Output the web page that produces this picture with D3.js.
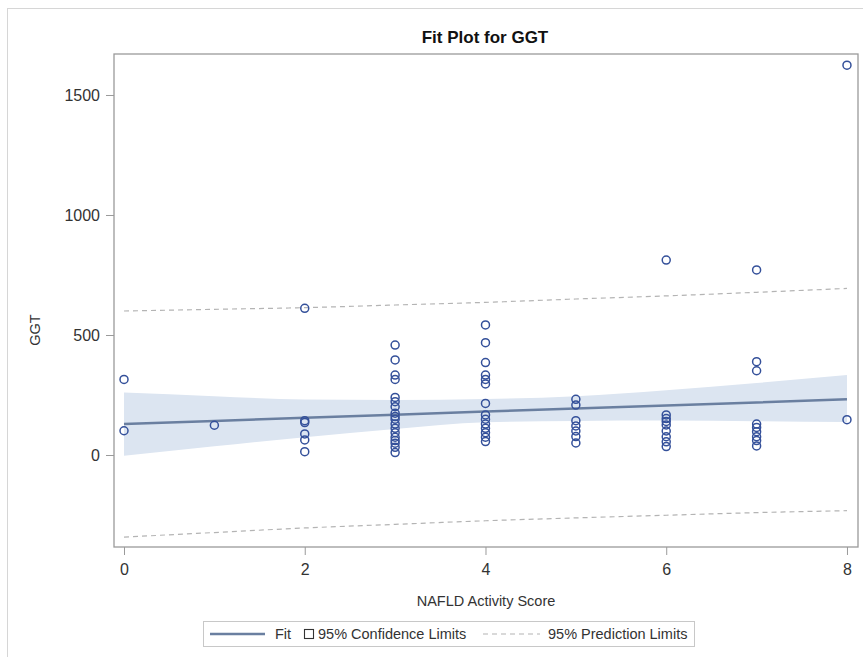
<!DOCTYPE html>
<html>
<head>
<meta charset="utf-8">
<script src="https://cdn.jsdelivr.net/npm/d3@7"></script>
<style>
  html, body { margin: 0; padding: 0; background: #fff; }
  svg { display: block; font-family: Arial, "Liberation Sans", sans-serif; }
</style>
</head>
<body>
<svg id="chart" width="863" height="657"></svg>
<script>
// ---- data ----
const scoreX = [0,0, 1,
  2,2,2,2,2,2,
  3,3,3,3,3,3,3,3,3,3,3,3,3,3,3,3,3,3,
  4,4,4,4,4,4,4,4,4,4,4,4,4,4,
  5,5,5,5,5,5,5,
  6,6,6,6,6,6,6,6,6,
  7,7,7,7,7,7,7,7,7,
  8,8];
const ggtY = [315,101, 124,
  611,143,135,88,63,14,
  458,396,333,315,240,222,201,174,160,149,129,111,93,74,60,49,32,10,
  542,468,385,333,315,296,215,167,149,129,111,93,74,56,
  232,208,143,121,100,77,50,
  812,167,152,140,125,100,76,55,35,
  771,389,351,129,115,97,76,60,38,
  1624,147];

const gridX   = [0, 1, 2, 3, 4, 5, 6, 7, 8];
const fitY    = [129, 142, 155, 168, 181, 194, 206, 219, 232];
const clUpper = [260, 245, 231, 229, 233, 245, 270, 300, 333];
const clLower = [-3, 36, 74, 108, 136, 142, 144, 141, 137];
const plUpper = [600, 607, 614, 625, 636, 650, 663, 678, 694];
const plLower = [-342, -323, -304, -289, -274, -262, -251, -240, -232];

const xTicks = [0, 2, 4, 6, 8];
const yTicks = [0, 500, 1000, 1500];

const titleText = "Fit Plot for GGT";
const xLabel = "NAFLD Activity Score";
const yLabel = "GGT";
const legendItems = ["Fit", "95% Confidence Limits", "95% Prediction Limits"];

// ---- layout ----
const svg = d3.select("#chart");
const L = 114, T = 54, R = 858, B = 547;

const x = d3.scaleLinear().domain([-0.1107, 8.122]).range([L, R]);
const y = d3.scaleLinear().domain([-383.3, 1670.8]).range([B, T]);

const axisColor = "#9a9a9a";
const textColor = "#333";

// outer frame
svg.append("rect").attr("x", 7.5).attr("y", 8.5).attr("width", 900).attr("height", 700)
  .attr("fill", "none").attr("stroke", "#d6d6d6").attr("stroke-width", 1);

// title
svg.append("text").attr("x", 485).attr("y", 43).attr("text-anchor", "middle")
  .attr("font-size", 17).attr("font-weight", "bold").attr("fill", "#111").text(titleText);

// confidence band
const idx = d3.range(gridX.length);
svg.append("path")
  .datum(idx)
  .attr("d", d3.area().x(i => x(gridX[i])).y0(i => y(clLower[i])).y1(i => y(clUpper[i])).curve(d3.curveMonotoneX))
  .attr("fill", "#dce5f1");

// prediction limits
[plUpper, plLower].forEach(arr => {
  svg.append("path").datum(idx)
    .attr("d", d3.line().x(i => x(gridX[i])).y(i => y(arr[i])).curve(d3.curveMonotoneX))
    .attr("fill", "none").attr("stroke", "#b4b4b4").attr("stroke-width", 1.2)
    .attr("stroke-dasharray", "5,4");
});

// fit line
svg.append("path").datum(idx)
  .attr("d", d3.line().x(i => x(gridX[i])).y(i => y(fitY[i])))
  .attr("fill", "none").attr("stroke", "#6a7fa0").attr("stroke-width", 2.5);

// points
svg.append("g").selectAll("circle").data(d3.range(scoreX.length)).join("circle")
  .attr("cx", i => x(scoreX[i])).attr("cy", i => y(ggtY[i])).attr("r", 4)
  .attr("fill", "none").attr("stroke", "#34509a").attr("stroke-width", 1.5);

// plot frame
svg.append("rect").attr("x", L).attr("y", T).attr("width", R - L).attr("height", B - T)
  .attr("fill", "none").attr("stroke", axisColor).attr("stroke-width", 1.3);

// axes
const xAxis = svg.append("g").attr("transform", `translate(0,${B})`)
  .call(d3.axisBottom(x).tickValues(xTicks).tickSize(8).tickPadding(9).tickFormat(d3.format("d")));
const yAxis = svg.append("g").attr("transform", `translate(${L},0)`)
  .call(d3.axisLeft(y).tickValues(yTicks).tickSize(8).tickPadding(6).tickFormat(d3.format("d")));
[xAxis, yAxis].forEach(a => {
  a.select(".domain").remove();
  a.selectAll(".tick line").attr("stroke", axisColor);
  a.selectAll(".tick text").attr("fill", textColor).attr("font-size", 16)
    .attr("font-family", "Arial, 'Liberation Sans', sans-serif");
});

// axis labels
svg.append("text").attr("x", 486).attr("y", 606).attr("text-anchor", "middle")
  .attr("font-size", 14.5).attr("fill", textColor).text(xLabel);
svg.append("text").attr("transform", `translate(40,330) rotate(-90)`)
  .attr("text-anchor", "middle").attr("font-size", 14.5).attr("fill", textColor).text(yLabel);

// legend
const lg = svg.append("g");
lg.append("rect").attr("x", 203.5).attr("y", 621.5).attr("width", 491).attr("height", 25)
  .attr("fill", "#fff").attr("stroke", "#c8c8c8");
const ly = 634;
lg.append("line").attr("x1", 210).attr("x2", 265).attr("y1", ly).attr("y2", ly)
  .attr("stroke", "#6a7fa0").attr("stroke-width", 2.5);
lg.append("text").attr("x", 275).attr("y", ly + 5).attr("font-size", 14.5).attr("fill", textColor).text(legendItems[0]);
lg.append("rect").attr("x", 304.5).attr("y", ly - 4.5).attr("width", 9).attr("height", 9)
  .attr("fill", "#fff").attr("stroke", "#333").attr("stroke-width", 1.1);
lg.append("text").attr("x", 318).attr("y", ly + 5).attr("font-size", 14.5).attr("fill", textColor).text(legendItems[1]);
lg.append("line").attr("x1", 483).attr("x2", 540).attr("y1", ly).attr("y2", ly)
  .attr("stroke", "#b4b4b4").attr("stroke-width", 1.2).attr("stroke-dasharray", "5,4");
lg.append("text").attr("x", 548).attr("y", ly + 5).attr("font-size", 14.5).attr("fill", textColor).text(legendItems[2]);
</script>
</body>
</html>
